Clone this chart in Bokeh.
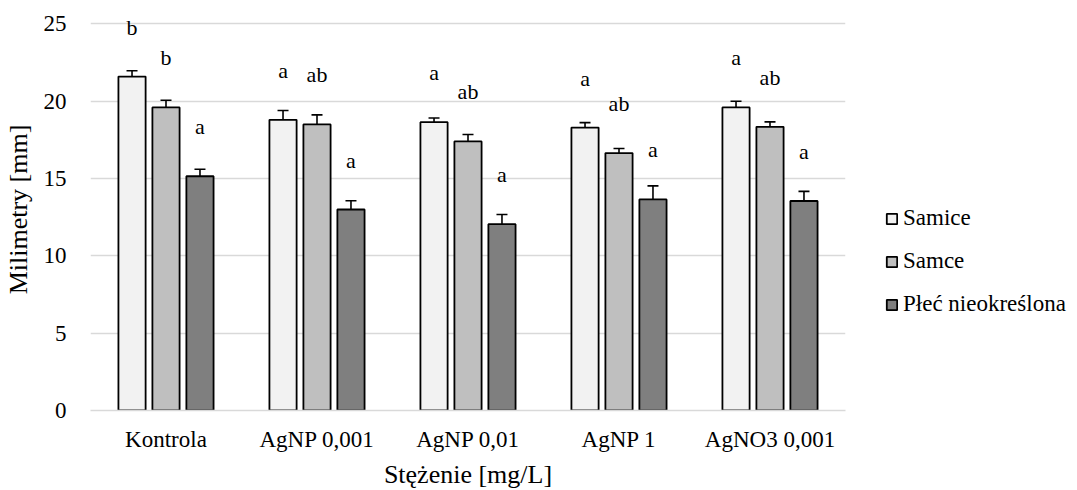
from bokeh.plotting import figure
from bokeh.models import (ColumnDataSource, Range1d, FactorRange, Whisker, TeeHead,
                          Legend, LegendItem, FixedTicker)
from bokeh.transform import dodge
from bokeh.core.properties import value
from bokeh.embed import file_html
from bokeh.resources import INLINE

categories = ["Kontrola", "AgNP 0,001", "AgNP 0,01", "AgNP 1", "AgNO3 0,001"]
series_names = ["Samice", "Samce", "Płeć nieokreślona"]

samice = [21.6, 18.8, 18.65, 18.3, 19.6]
samice_err = [0.37, 0.6, 0.27, 0.32, 0.4]
samce = [19.6, 18.5, 17.4, 16.65, 18.35]
samce_err = [0.47, 0.62, 0.45, 0.3, 0.32]
plec = [15.15, 13.0, 12.05, 13.65, 13.55]
plec_err = [0.45, 0.57, 0.63, 0.88, 0.62]

samice_letters = ["b", "a", "a", "a", "a"]
samce_letters = ["b", "ab", "ab", "ab", "ab"]
plec_letters = ["a", "a", "a", "a", "a"]

y_ticks = [0, 5, 10, 15, 20, 25]

colors = ["#f2f2f2", "#bfbfbf", "#7f7f7f"]
offsets = [-0.225, 0.0, 0.225]
FONT = "Liberation Serif"

p = figure(x_range=FactorRange(*categories), y_range=Range1d(0, 26.0),
           frame_width=755, frame_height=402, output_backend="svg",
           toolbar_location=None, min_border_left=82, min_border_right=224,
           min_border_top=8, min_border_bottom=72)
p.outline_line_color = None
p.background_fill_color = "white"

all_vals = [samice, samce, plec]
all_errs = [samice_err, samce_err, plec_err]
all_letters = [samice_letters, samce_letters, plec_letters]

items = []
for name, vals, errs, letters, col, off in zip(series_names, all_vals, all_errs,
                                                all_letters, colors, offsets):
    src = ColumnDataSource(dict(
        cat=categories, val=vals,
        up=[v + e for v, e in zip(vals, errs)],
        lo=[v - e for v, e in zip(vals, errs)],
        lab=letters,
        laby=[v + 3.2 for v in vals],
    ))
    r = p.vbar(x=dodge("cat", off, range=p.x_range), top="val", width=0.18,
               source=src, fill_color=col, line_color="black", line_width=1.8)
    items.append(LegendItem(label=name, renderers=[r]))
    w = Whisker(base=dodge("cat", off, range=p.x_range), upper="up", lower="lo",
                source=src, line_color="black", line_width=1.6,
                upper_head=TeeHead(size=11, line_width=1.6, line_color="black"),
                lower_head=TeeHead(size=11, line_width=1.6, line_color="black"))
    p.add_layout(w)
    p.text(x=dodge("cat", off, range=p.x_range), y="laby", text="lab", source=src,
           text_font=value(FONT), text_font_size="22px", text_align="center",
           text_baseline="middle", text_color="black")

legend = Legend(items=items, location=(40, 93))
legend.label_text_font = FONT
legend.label_text_font_size = "23px"
legend.label_text_color = "black"
legend.glyph_width = 13
legend.glyph_height = 13
legend.label_height = 26
legend.spacing = 17
legend.label_standoff = 5
legend.padding = 0
legend.margin = 0
legend.border_line_color = None
legend.background_fill_alpha = 0
p.add_layout(legend, "right")

p.xgrid.grid_line_color = None
p.ygrid.grid_line_color = "#d9d9d9"
p.ygrid.grid_line_width = 1.3
p.yaxis.ticker = FixedTicker(ticks=y_ticks)

for ax in (p.xaxis[0], p.yaxis[0]):
    ax.major_tick_line_color = None
    ax.minor_tick_line_color = None
    ax.major_label_text_font = FONT
    ax.major_label_text_font_size = "23px"
    ax.major_label_text_color = "black"
    ax.axis_label_text_font = FONT
    ax.axis_label_text_font_size = "26px"
    ax.axis_label_text_font_style = "normal"
    ax.axis_label_text_color = "black"

p.yaxis.axis_line_color = None
p.xaxis.axis_line_color = "#d9d9d9"
p.xaxis.axis_line_width = 1.3
p.xaxis.major_label_standoff = 10
p.xaxis.axis_label_standoff = 5
p.yaxis.major_label_standoff = 18
p.yaxis.axis_label_standoff = 8
p.xaxis.axis_label = "Stężenie [mg/L]"
p.yaxis.axis_label = "Milimetry [mm]"

open("out.html", "w").write(file_html(p, INLINE))
